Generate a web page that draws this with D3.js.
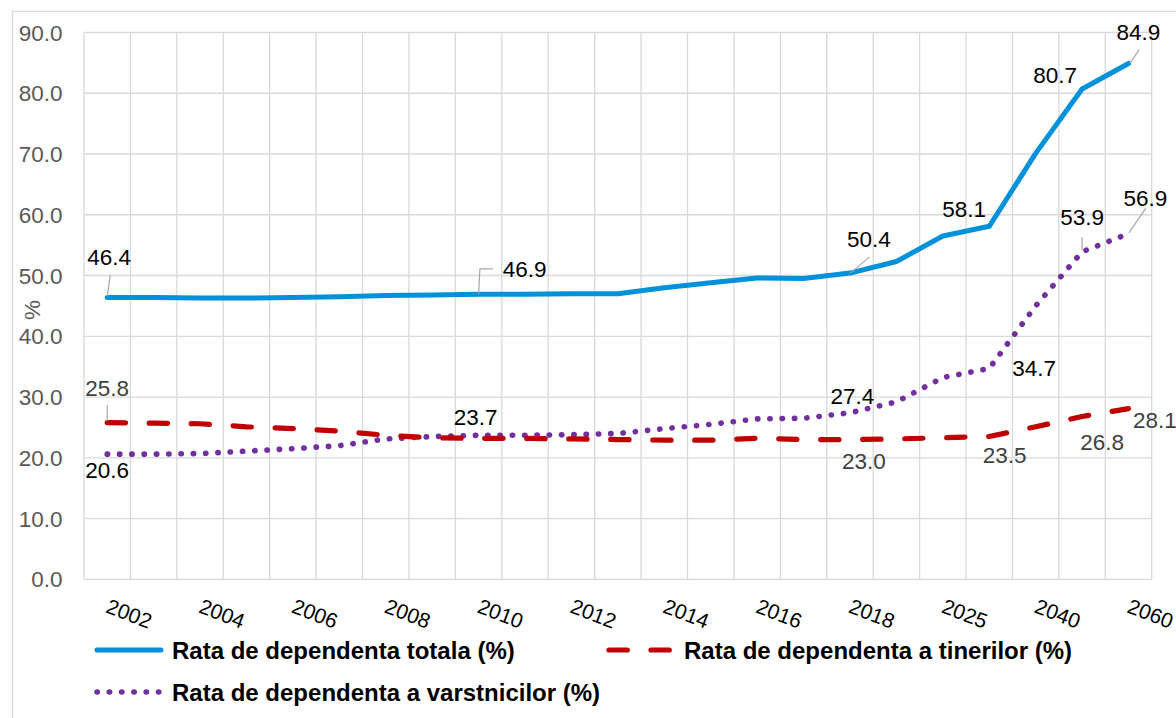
<!DOCTYPE html>
<html>
<head>
<meta charset="utf-8">
<script src="https://cdn.jsdelivr.net/npm/d3@7"></script>
<style>
  body { margin: 0; background: #fff; }
  text { font-family: "Liberation Sans", Arial, sans-serif; }
</style>
</head>
<body>
<div id="chart"></div>
<script>
// categories (every other one gets a tick label)
const years = ["2002", "2003", "2004", "2005", "2006", "2007", "2008", "2009", "2010", "2011",
  "2012", "2013", "2014", "2015", "2016", "2017", "2018", "2020", "2025", "2030", "2040", "2050", "2060"];
const tickYears = ["2002", "2004", "2006", "2008", "2010", "2012", "2014", "2016", "2018", "2025", "2040", "2060"];
const yTicks = [0, 10, 20, 30, 40, 50, 60, 70, 80, 90];

// series values (%)
const totala = [46.4, 46.4, 46.3, 46.3, 46.4, 46.5, 46.7, 46.8, 46.9, 46.9, 47.0, 47.0,
  48.0, 48.8, 49.6, 49.5, 50.4, 52.3, 56.5, 58.1, 70.1, 80.7, 84.9];
const tineri = [25.8, 25.7, 25.6, 25.1, 24.8, 24.4, 23.7, 23.3, 23.2, 23.2, 23.1, 23.0,
  22.9, 22.9, 23.2, 23.0, 23.0, 23.1, 23.3, 23.5, 25.1, 26.8, 28.1];
const varstnici = [20.6, 20.6, 20.7, 21.1, 21.5, 22.0, 23.1, 23.5, 23.7, 23.7, 23.8, 24.0,
  24.8, 25.5, 26.4, 26.5, 27.4, 29.2, 33.2, 34.7, 45.0, 53.9, 56.9];

const W = 1176, H = 718;
const plot = { left: 84, right: 1151.7, top: 32.5, bottom: 579.3 };

const svg = d3.select("#chart").append("svg")
  .attr("width", W).attr("height", H);

// outer chart frame
svg.append("rect")
  .attr("x", 12.5).attr("y", 11.5)
  .attr("width", 1300).attr("height", 900)
  .attr("fill", "none").attr("stroke", "#d9d9d9").attr("stroke-width", 1.3);

const x = d3.scaleBand().domain(years).range([plot.left, plot.right]).padding(0);
const y = d3.scaleLinear().domain([0, 90]).range([plot.bottom, plot.top]);
const cx = (d) => x(d) + x.bandwidth() / 2;

// gridlines
svg.append("g").selectAll("line")
  .data(yTicks).join("line")
  .attr("x1", plot.left).attr("x2", plot.right)
  .attr("y1", (d) => y(d)).attr("y2", (d) => y(d))
  .attr("stroke", "#d9d9d9").attr("stroke-width", 1.3);

const vBounds = years.map((d) => x(d)).concat([plot.right]);
svg.append("g").selectAll("line")
  .data(vBounds).join("line")
  .attr("x1", (d) => d).attr("x2", (d) => d)
  .attr("y1", plot.top).attr("y2", plot.bottom)
  .attr("stroke", "#d9d9d9").attr("stroke-width", 1.3);

// y axis labels
svg.append("g").selectAll("text")
  .data(yTicks).join("text")
  .attr("x", 62.5).attr("y", (d) => y(d))
  .attr("dy", "0.36em")
  .attr("text-anchor", "end")
  .attr("fill", "#595959")
  .style("font-size", "22.5px")
  .text((d) => d.toFixed(1));

svg.append("text")
  .attr("transform", "translate(40,310) rotate(-90)")
  .attr("text-anchor", "middle")
  .attr("fill", "#595959")
  .style("font-size", "22.5px")
  .text("%");

// x axis labels, rotated
svg.append("g").selectAll("text")
  .data(tickYears).join("text")
  .attr("transform", (d) => "translate(" + (cx(d) + 3) + ",598) rotate(21)")
  .attr("dy", "0.72em")
  .attr("text-anchor", "start")
  .attr("fill", "#000")
  .style("font-size", "21px")
  .text((d) => d);

const series = [
  { name: "Rata de dependenta totala (%)", values: totala, color: "#0091da", dash: null, width: 5 },
  { name: "Rata de dependenta a tinerilor (%)", values: tineri, color: "#c00000", dash: "18.3 23.7", width: 5.2 },
  { name: "Rata de dependenta a varstnicilor (%)", values: varstnici, color: "#7030a0", dash: "0.3 12", width: 5.6 }
];

const line = d3.line()
  .x((d, i) => cx(years[i]))
  .y((d) => y(d));

// draw purple first, then red, then blue on top
[series[2], series[1], series[0]].forEach((s) => {
  svg.append("path")
    .datum(s.values)
    .attr("fill", "none")
    .attr("stroke", s.color)
    .attr("stroke-width", s.width)
    .attr("stroke-linecap", "round")
    .attr("stroke-linejoin", "round")
    .attr("stroke-dasharray", s.dash)
    .attr("d", line);
});

// data labels: which point, offset of the label centre/baseline, optional leader line
const labelSpots = [
  { s: 0, i: 0, dx: 2, dy: -32, lead: [[0, -1], [3, -22]] },
  { s: 0, i: 8, dx: 46, dy: -17, lead: [[0, -0.5], [1.3, -25.5], [14.6, -25.5]] },
  { s: 0, i: 16, dx: 19, dy: -26, lead: [[0.4, 0], [19.4, -16]] },
  { s: 0, i: 19, dx: -25, dy: -9 },
  { s: 0, i: 21, dx: -27, dy: -6 },
  { s: 0, i: 22, dx: 10, dy: -23, lead: [[1.5, -0.3], [10.8, -14]] },
  { s: 1, i: 0, dx: 0, dy: -27, lead: [[0, -1.5], [0, -17.5]] },
  { s: 1, i: 16, dx: 14, dy: 29.5 },
  { s: 1, i: 19, dx: 15.5, dy: 26.5 },
  { s: 1, i: 21, dx: 20, dy: 33.6 },
  { s: 1, i: 22, dx: 26.5, dy: 19.5 },
  { s: 2, i: 0, dx: 0, dy: 24 },
  { s: 2, i: 8, dx: -3, dy: -10 },
  { s: 2, i: 16, dx: 2.4, dy: -9 },
  { s: 2, i: 19, dx: 45, dy: 7.6 },
  { s: 2, i: 21, dx: 0, dy: -27, lead: [[0, -1.7], [0, -14.7]] },
  { s: 2, i: 22, dx: 17, dy: -27.5, lead: [[0.5, -0.8], [17.2, -25.2]] }
];

const labels = svg.append("g");
labelSpots.forEach((l) => {
  const v = series[l.s].values[l.i];
  const px = cx(years[l.i]);
  const py = y(v);
  if (l.lead) {
    labels.append("path")
      .attr("d", d3.line()(l.lead.map((p) => [px + p[0], py + p[1]])))
      .attr("fill", "none")
      .attr("stroke", "#a6a6a6")
      .attr("stroke-width", 1.2);
  }
  labels.append("text")
    .attr("x", px + l.dx).attr("y", py + l.dy)
    .attr("text-anchor", "middle")
    .attr("fill", l.s === 1 ? "#404040" : "#000")
    .style("font-size", "22.5px")
    .text(v.toFixed(1));
});

// legend
const legendItems = [
  { s: series[0], x: 95, y: 650 },
  { s: series[1], x: 607, y: 650 },
  { s: series[2], x: 95, y: 692 }
];
const legend = svg.append("g");
legendItems.forEach((d) => {
  const len = d.s.dash && d.s.dash.startsWith("0") ? 64 : 66;
  legend.append("line")
    .attr("x1", d.x + 2).attr("x2", d.x + len)
    .attr("y1", d.y).attr("y2", d.y)
    .attr("stroke", d.s.color)
    .attr("stroke-width", d.s.width)
    .attr("stroke-linecap", "round")
    .attr("stroke-dasharray", d.s.dash);
  legend.append("text")
    .attr("x", d.x + 77).attr("y", d.y)
    .attr("dy", "0.36em")
    .attr("fill", "#000")
    .style("font-size", "24px")
    .style("font-weight", "bold")
    .text(d.s.name);
});
</script>
</body>
</html>
